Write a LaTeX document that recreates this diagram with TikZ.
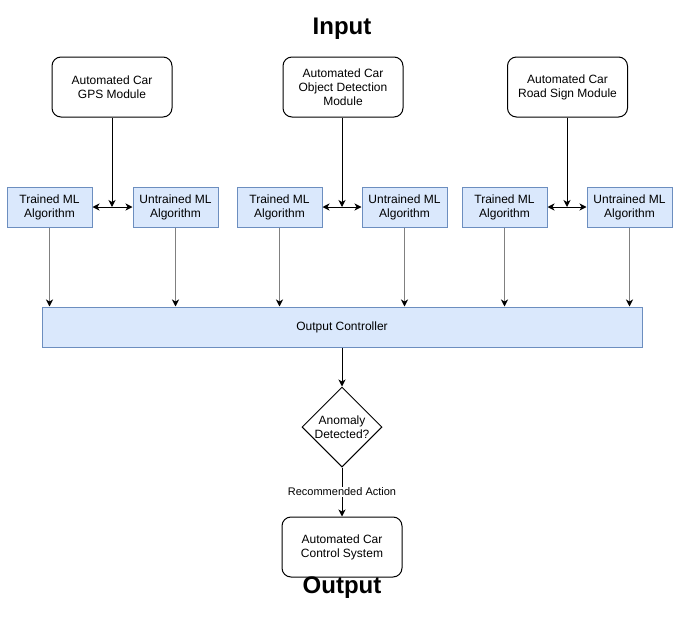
\documentclass[tikz,border=0pt]{standalone}
\usepackage{fontspec}
\setmainfont{Liberation Sans}
\usetikzlibrary{shapes.geometric,arrows.meta}

\definecolor{algofill}{HTML}{DAE8FC}
\definecolor{algoline}{HTML}{6C8EBF}
\definecolor{feedgray}{HTML}{808080}

\tikzset{
  module/.style={draw, line width=1pt, rounded corners=9pt, minimum width=120pt, minimum height=60pt,
    align=center, font=\fontsize{12}{14}\selectfont},
  algo/.style={draw=algoline, fill=algofill, line width=1pt, minimum width=85pt, minimum height=40pt,
    align=center, font=\fontsize{12}{14}\selectfont},
  decision/.style={draw, diamond, line width=1pt, minimum width=80pt, minimum height=80pt, inner sep=0pt,
    align=center, font=\fontsize{12}{14}\selectfont},
  heading/.style={font=\fontsize{24}{28}\selectfont\bfseries},
  arr/.style={line width=1pt, -{Stealth[length=7pt,width=7pt,inset=2pt]}},
  dbl/.style={line width=1pt, {Stealth[length=7pt,width=7pt,inset=2pt]}-{Stealth[length=7pt,width=7pt,inset=2pt]}},
  feed/.style={line width=1.6pt, draw=feedgray, -{Stealth[length=7pt,width=7pt,inset=2pt,color=black]}}
}

\begin{document}
\begin{tikzpicture}[x=1pt, y=-1pt]
      \useasboundingbox (0,0) rectangle (686,621);

      \node[heading] (input) at (342,29) {Input};

      \node[module] (gps) at (112,87) {Automated Car\\GPS Module};
      \node[module] (objdet) at (343,87) {Automated Car\\Object Detection\\Module};
      \node[module] (sign) at (567.5,87) {Automated Car\\Road Sign Module};

      \node[algo] (t1) at (49.5,207) {Trained ML\\Algorithm};
      \node[algo] (u1) at (175.5,207) {Untrained ML\\Algorithm};
      \node[algo] (t2) at (279.5,207) {Trained ML\\Algorithm};
      \node[algo] (u2) at (404.5,207) {Untrained ML\\Algorithm};
      \node[algo] (t3) at (504.5,207) {Trained ML\\Algorithm};
      \node[algo] (u3) at (629.5,207) {Untrained ML\\Algorithm};

      \coordinate (j1) at (112,207);
      \coordinate (j2) at (342,207);
      \coordinate (j3) at (567,207);

      \node[algo, minimum width=600pt] (ctrl) at (342,327) {Output Controller};
      \node[decision] (anomaly) at (342,427) {Anomaly\\Detected?};
      \node[module] (control) at (342,547) {Automated Car\\Control System};

      \node[heading] (output) at (342,588) {Output};

      \draw[arr] (gps) -- (j1);
      \draw[arr] (objdet.south -| j2) -- (j2);
      \draw[arr] (sign.south -| j3) -- (j3);

      \draw[dbl] (t1) -- (u1);
      \draw[dbl] (t2) -- (u2);
      \draw[dbl] (t3) -- (u3);

      \draw[feed] (t1) -- (t1 |- ctrl.north);
      \draw[feed] (u1) -- (u1 |- ctrl.north);
      \draw[feed] (t2) -- (t2 |- ctrl.north);
      \draw[feed] (u2) -- (u2 |- ctrl.north);
      \draw[feed] (t3) -- (t3 |- ctrl.north);
      \draw[feed] (u3) -- (u3 |- ctrl.north);

      \draw[arr] (ctrl) -- (anomaly);
      \draw[arr] (anomaly) -- (control)
        node[pos=.5, fill=white, inner sep=1pt, font=\fontsize{11}{13}\selectfont] {Recommended Action};

    \end{tikzpicture}
\end{document}
